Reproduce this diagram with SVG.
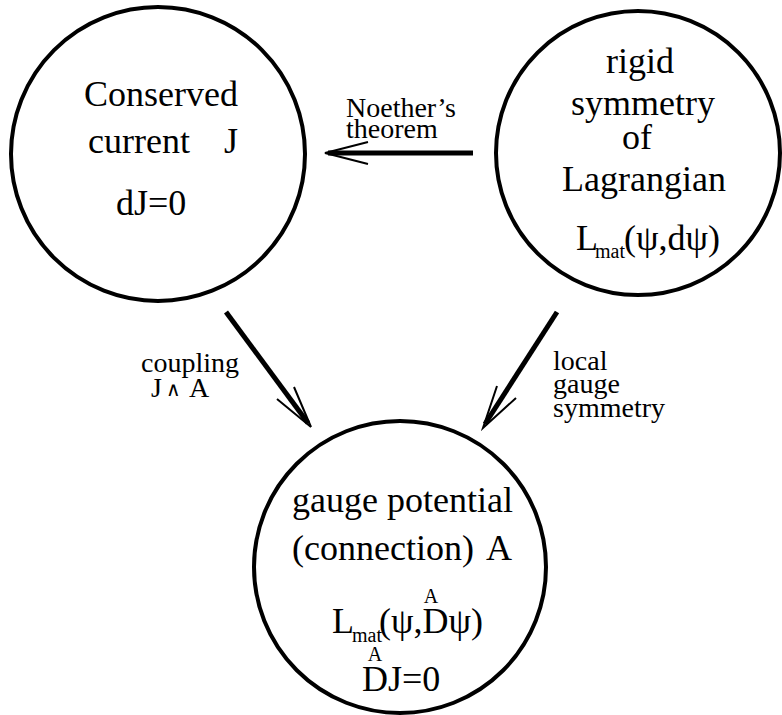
<svg xmlns="http://www.w3.org/2000/svg" width="782" height="715" viewBox="0 0 782 715">
<style>
.c{fill:none;stroke:#000;stroke-width:4}
.t{font-family:"Liberation Serif","Times New Roman",serif;font-size:36px;fill:#000}
.s{font-family:"Liberation Serif","Times New Roman",serif;font-size:28px;fill:#000}
.sub{font-family:"Liberation Serif","Times New Roman",serif;font-size:20px;fill:#000}
.m{text-anchor:middle}
.shaft{stroke:#000;stroke-width:5;fill:none}
.head{stroke:#000;stroke-width:2;fill:none}
</style>
<rect width="782" height="715" fill="#fff"/>
<g id="conserved">
<circle class="c" cx="158" cy="154" r="147"/>
<text class="t m" x="161" y="106">Conserved</text>
<text class="t" x="88" y="153">current</text>
<text class="t" x="224" y="153">J</text>
<text class="t" x="116" y="215">dJ=0</text>
</g>
<g id="rigid">
<circle class="c" cx="638" cy="153" r="142"/>
<text class="t m" x="640" y="73">rigid</text>
<text class="t m" x="643" y="115">symmetry</text>
<text class="t m" x="637" y="149">of</text>
<text class="t m" x="644" y="191">Lagrangian</text>
<text class="t" x="576" y="250">L</text>
<text class="sub" x="595" y="258">mat</text>
<text class="t" x="624" y="250">(ψ,dψ)</text>
</g>
<g id="gauge">
<circle class="c" cx="400" cy="567" r="146"/>
<text class="t" x="292" y="512">gauge potential</text>
<text class="t" x="292" y="560">(connection)</text>
<text class="t" x="486" y="560">A</text>
<text class="t" x="332" y="633">L</text>
<text class="sub" x="352" y="642">mat</text>
<text class="t" x="379" y="633">(ψ,Dψ)</text>
<text class="sub m" x="431" y="603">A</text>
<text class="t" x="362" y="691">DJ=0</text>
<text class="sub m" x="375" y="661">A</text>
</g>
<g id="connectors">
<line class="shaft" x1="473" y1="153" x2="328" y2="153"/>
<polyline class="head" points="368,142 325,153 368,164"/>
<line class="shaft" x1="226" y1="312" x2="308" y2="423"/>
<polyline class="head" points="277,399 311,427 294,387"/>
<line class="shaft" x1="557" y1="312" x2="485" y2="424"/>
<polyline class="head" points="497,386 483,428 516,398"/>
<text class="s" x="346" y="117">Noether’s</text>
<text class="s" x="346" y="138">theorem</text>
<text class="s" x="141" y="372">coupling</text>
<text class="s" x="151" y="397">J</text>
<text class="sub" x="166" y="396">∧</text>
<text class="s" x="189" y="397">A</text>
<text class="s" x="553" y="370">local</text>
<text class="s" x="553" y="393">gauge</text>
<text class="s" x="553" y="417">symmetry</text>
</g>
</svg>
